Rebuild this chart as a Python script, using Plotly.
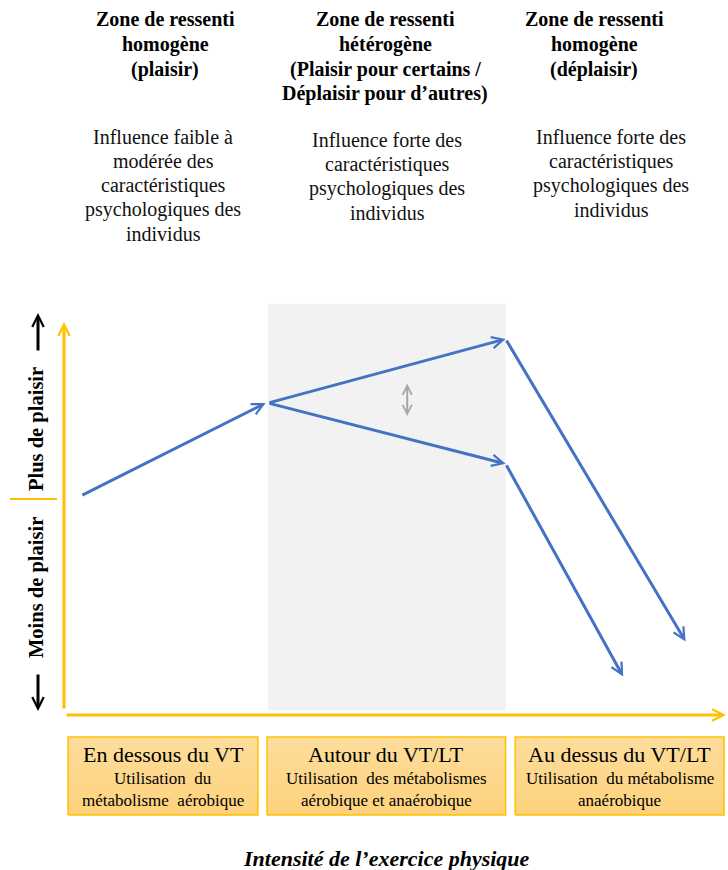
import plotly.graph_objects as go

# ---------------- data (intensity / pleasure in arbitrary units) ----------------
warmup_x = [0.7, 8.5]          # below VT: rising pleasure
warmup_y = [0.1, 3.0]
branch_x = [8.5, 18.4]         # around VT/LT: responses diverge
branch_high_y = [3.0, 5.0]
branch_low_y = [3.0, 1.1]
decline_high_x = [18.4, 25.9]  # above VT/LT: pleasure falls
decline_high_y = [5.0, -4.45]
decline_low_x = [18.4, 23.3]
decline_low_y = [1.1, -5.55]
spread_x = [14.3, 14.3]        # inter-individual variability
spread_y = [2.55, 3.6]

zone_start = [0.17, 8.46, 18.8]
zone_end = [8.08, 18.4, 27.5]
hetero_zone_x = [8.5, 18.4]
hetero_zone_y = [-6.6, 6.1]

zone_titles = [
    ["Zone de ressenti", "homogène", "(plaisir)"],
    ["Zone de ressenti", "hétérogène", "(Plaisir pour certains /", "Déplaisir pour d’autres)"],
    ["Zone de ressenti", "homogène", "(déplaisir)"],
]
zone_desc = [
    ["Influence faible à", "modérée des", "caractéristiques", "psychologiques des", "individus"],
    ["Influence forte des", "caractéristiques", "psychologiques des", "individus"],
    ["Influence forte des", "caractéristiques", "psychologiques des", "individus"],
]
box_titles = ["En dessous du VT", "Autour du VT/LT", "Au dessus du VT/LT"]
box_sub = [
    ["Utilisation  du", "métabolisme  aérobique"],
    ["Utilisation  des métabolismes", "aérobique et anaérobique"],
    ["Utilisation  du métabolisme", "anaérobique"],
]
y_labels = ["Plus de plaisir", "Moins de plaisir"]
x_title = "Intensité de l’exercice physique"

# ---------------- layout helpers ----------------
W, H = 728, 870
X0, SX = 64, 24      # pixel of intensity 0, pixels per unit
Y0, SY = 499, 32     # pixel of pleasure 0, pixels per unit


def dx(px):
    return (px - X0) / SX


def dy(py):
    return (Y0 - py) / SY


def px2p(px, py):
    return px / W, 1 - py / H


SERIF = "Liberation Serif, Times New Roman, serif"
BLUE = "#4472C4"
GOLD = "#FFC000"

fig = go.Figure()
annotations = []
shapes = []

# heterogeneous zone shading
shapes.append(dict(type="rect", xref="x", yref="y",
                   x0=hetero_zone_x[0], x1=hetero_zone_x[1],
                   y0=hetero_zone_y[0], y1=hetero_zone_y[1],
                   fillcolor="#F2F2F2", line=dict(width=0), layer="below"))

# neutral tick on y axis
shapes.append(dict(type="line", xref="x", yref="y", x0=dx(10), x1=dx(57), y0=0, y1=0,
                   line=dict(color=GOLD, width=2)))


def arrow(x0, y0, x1, y1, color, width=3, size=0.75, head=5, both=False):
    d = dict(x=x1, y=y1, ax=x0, ay=y0, xref="x", yref="y", axref="x", ayref="y",
             text="", showarrow=True, arrowhead=head, arrowsize=size, arrowwidth=width,
             arrowcolor=color, standoff=0, startstandoff=0)
    if both:
        d.update(arrowside="end+start", startarrowhead=head, startarrowsize=size)
    annotations.append(d)


# axes
arrow(0, dy(710), 0, dy(322), GOLD, width=3)
arrow(dx(65), dy(715), dx(726), dy(715), GOLD, width=3)

# direction arrows next to y labels
arrow(dx(38), dy(352), dx(38), dy(313), "black", width=3)
arrow(dx(38), dy(673), dx(38), dy(711), "black", width=3)

# pleasure trajectories
arrow(warmup_x[0], warmup_y[0], warmup_x[1] - 0.1, warmup_y[1], BLUE)
arrow(branch_x[0], branch_high_y[0], branch_x[1], branch_high_y[1], BLUE)
arrow(branch_x[0], branch_low_y[0], branch_x[1], branch_low_y[1], BLUE)
arrow(decline_high_x[0], decline_high_y[0], decline_high_x[1], decline_high_y[1], BLUE)
arrow(decline_low_x[0], decline_low_y[0], decline_low_x[1], decline_low_y[1], BLUE)

# variability double arrow
arrow(spread_x[0], spread_y[0], spread_x[1], spread_y[1], "#A6A6A6", width=2, size=0.9, both=True)

# zone boxes with gradient fill
for s, e in zip(zone_start, zone_end):
    yb, yt = dy(815), dy(737)
    fig.add_trace(go.Scatter(
        x=[s, e, e, s, s], y=[yb, yb, yt, yt, yb], mode="lines", fill="toself",
        line=dict(color=GOLD, width=1.5),
        fillgradient=dict(type="vertical",
                          colorscale=[[0, "#FDD27C"], [1, "#FDDD9C"]]),
        hoverinfo="skip", showlegend=False))

# text: top zone titles
title_cx = [165, 385, 594]
desc_cx = [163, 387, 611]
desc_top = [137, 140, 137]
for i in range(3):
    for j, line in enumerate(zone_titles[i]):
        x, y = px2p(title_cx[i], 19 + 25 * j)
        annotations.append(dict(x=x, y=y, xref="paper", yref="paper", text="<b>%s</b>" % line,
                                showarrow=False, xanchor="center", yanchor="middle",
                                font=dict(family=SERIF, size=20, color="black")))
    for j, line in enumerate(zone_desc[i]):
        x, y = px2p(desc_cx[i], desc_top[i] + 24.3 * j)
        annotations.append(dict(x=x, y=y, xref="paper", yref="paper", text=line,
                                showarrow=False, xanchor="center", yanchor="middle",
                                font=dict(family=SERIF, size=20, color="#111111")))

# text: box labels
for i in range(3):
    cx = X0 + SX * (zone_start[i] + zone_end[i]) / 2
    x, y = px2p(cx, 754)
    annotations.append(dict(x=x, y=y, xref="paper", yref="paper", text=box_titles[i],
                            showarrow=False, xanchor="center", yanchor="middle",
                            font=dict(family=SERIF, size=22, color="black")))
    for j, line in enumerate(box_sub[i]):
        x, y = px2p(cx, 778 + 22.5 * j)
        annotations.append(dict(x=x, y=y, xref="paper", yref="paper", text=line,
                                showarrow=False, xanchor="center", yanchor="middle",
                                font=dict(family=SERIF, size=17, color="black")))

# y labels (rotated)
for label, cy in zip(y_labels, [429, 588]):
    x, y = px2p(36, cy)
    annotations.append(dict(x=x, y=y, xref="paper", yref="paper", text="<b>%s</b>" % label,
                            showarrow=False, textangle=-90, xanchor="center", yanchor="middle",
                            font=dict(family=SERIF, size=20.5, color="black")))

# x title
x, y = px2p(386, 858)
annotations.append(dict(x=x, y=y, xref="paper", yref="paper", text="<b><i>%s</i></b>" % x_title,
                        showarrow=False, xanchor="center", yanchor="middle",
                        font=dict(family=SERIF, size=22, color="black")))

fig.update_layout(
    width=W, height=H, margin=dict(l=0, r=0, t=0, b=0),
    paper_bgcolor="white", plot_bgcolor="white",
    xaxis=dict(range=[dx(0), dx(W)], visible=False, fixedrange=True),
    yaxis=dict(range=[dy(H), dy(0)], visible=False, fixedrange=True),
    shapes=shapes, annotations=annotations, showlegend=False,
)

fig.write_html(
    "out.html",
    config={"displayModeBar": False},
    post_script="document.body.style.margin='0';document.body.style.overflow='hidden';",
)
